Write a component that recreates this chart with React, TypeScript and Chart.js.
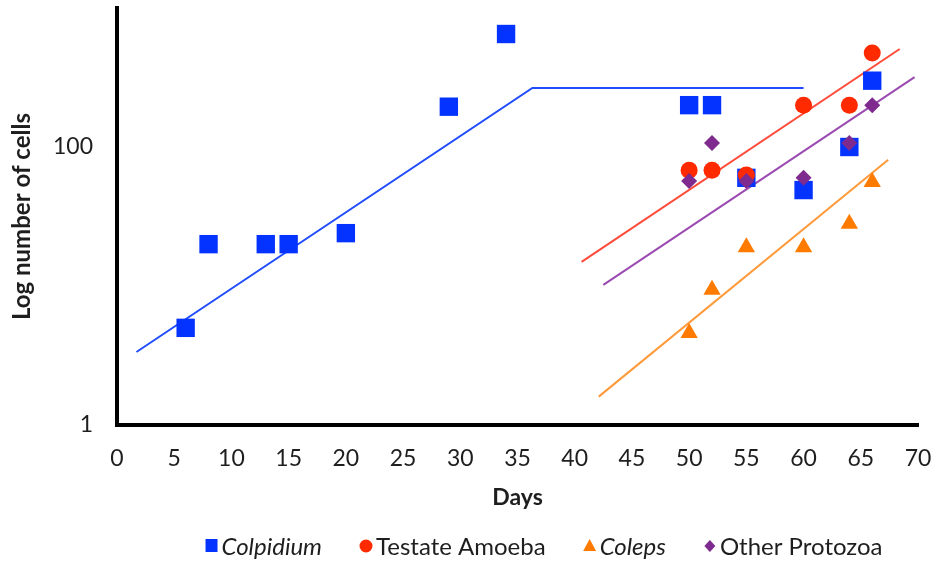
import React, { useEffect, useRef } from 'react';
import { Chart, registerables } from 'chart.js';

Chart.register(...registerables);

// ---- data ----
const colpidiumDays = [6, 8, 13, 15, 20, 29, 34, 50, 52, 55, 60, 64, 66];
const colpidiumCells = [5, 20, 20, 20, 24, 195, 650, 200, 200, 60, 49, 100, 300];

const testateDays = [50, 52, 55, 60, 64, 66];
const testateCells = [68, 68, 63, 200, 200, 475];

const colepsDays = [50, 52, 55, 60, 64, 66];
const colepsCells = [4.6, 9.4, 19, 19, 28, 56];

const otherDays = [50, 52, 55, 60, 64, 66];
const otherCells = [57, 107, 57, 60, 107, 200];

// trend lines (endpoints)
const colpidiumTrendDays = [1.7, 36.3, 60];
const colpidiumTrendCells = [3.35, 266, 266];
const testateTrendDays = [40.6, 68.4];
const testateTrendCells = [14.9, 507];
const colepsTrendDays = [42.1, 67.4];
const colepsTrendCells = [1.6, 81];
const otherTrendDays = [42.5, 69.7];
const otherTrendCells = [10.2, 318];

const seriesNames = ['Colpidium', 'Testate Amoeba', 'Coleps', 'Other Protozoa'];
const seriesItalic = [true, false, true, false];
const seriesShapes = ['rect', 'circle', 'triangle', 'rectRot'];
const markerColors = ['#0433ff', '#ff2a00', '#ff7b00', '#7e2a8e'];
const lineColors = ['#1f4cff', '#ff4b3a', '#ff9a3a', '#9a4ab0'];

const xMin = 0;
const xMax = 70;
const xStep = 5;
const yMin = 1;
const yMax = 1000;
const yTickValues = [1, 100];

const FONT = 'Lato, "Open Sans", "DejaVu Sans", sans-serif';
const TEXT = '#1e1e1e';

const pts = (xs: number[], ys: number[]) => xs.map((x, i) => ({ x, y: ys[i] }));

const legendPlugin = {
  id: 'customLegend',
  afterDraw(chart: any) {
    const ctx: CanvasRenderingContext2D = chart.ctx;
    ctx.save();
    const fontSize = 24;
    const y = chart.height - 15;
    const markerW = 12;
    const markerGap = 4;
    const itemGap = 38;
    const centerX = 544;
    const fonts = seriesNames.map((_, i) => `${seriesItalic[i] ? 'italic ' : ''}${fontSize}px ${FONT}`);
    const widths = seriesNames.map((n, i) => {
      ctx.font = fonts[i];
      return ctx.measureText(n).width;
    });
    const total =
      widths.reduce((a, w) => a + markerW + markerGap + w, 0) + itemGap * (seriesNames.length - 1);
    let x = centerX - total / 2;
    seriesNames.forEach((name, i) => {
      const cx = x + markerW / 2;
      ctx.fillStyle = markerColors[i];
      ctx.beginPath();
      const shape = seriesShapes[i];
      if (shape === 'rect') {
        ctx.rect(cx - 6, y - 7, 12, 13);
      } else if (shape === 'circle') {
        ctx.arc(cx, y, 6.5, 0, Math.PI * 2);
      } else if (shape === 'triangle') {
        ctx.moveTo(cx, y - 7);
        ctx.lineTo(cx + 6.5, y + 5);
        ctx.lineTo(cx - 6.5, y + 5);
        ctx.closePath();
      } else {
        ctx.moveTo(cx, y - 6);
        ctx.lineTo(cx + 5.5, y);
        ctx.lineTo(cx, y + 6);
        ctx.lineTo(cx - 5.5, y);
        ctx.closePath();
      }
      ctx.fill();
      ctx.font = fonts[i];
      ctx.fillStyle = TEXT;
      ctx.textBaseline = 'middle';
      ctx.textAlign = 'left';
      ctx.fillText(name, x + markerW + markerGap, y + 1);
      x += markerW + markerGap + widths[i] + itemGap;
    });
    ctx.restore();
  },
};

export default function App() {
  const ref = useRef<HTMLCanvasElement>(null);

  useEffect(() => {
    if (!ref.current) return;
    const pointSets = [
      { d: pts(colpidiumDays, colpidiumCells), r: 13, order: 3 },
      { d: pts(testateDays, testateCells), r: 8.5, order: 2 },
      { d: pts(colepsDays, colepsCells), r: 10, order: 1 },
      { d: pts(otherDays, otherCells), r: 8, order: 0 },
    ];
    const trendSets = [
      pts(colpidiumTrendDays, colpidiumTrendCells),
      pts(testateTrendDays, testateTrendCells),
      pts(colepsTrendDays, colepsTrendCells),
      pts(otherTrendDays, otherTrendCells),
    ];
    const datasets: any[] = [];
    trendSets.forEach((d, i) => {
      datasets.push({
        label: seriesNames[i] + ' trend',
        data: d,
        showLine: true,
        borderColor: lineColors[i],
        backgroundColor: lineColors[i],
        borderWidth: 2,
        pointRadius: 0,
        pointHoverRadius: 0,
        order: 10 + i,
      });
    });
    pointSets.forEach((p, i) => {
      datasets.push({
        label: seriesNames[i],
        data: p.d,
        showLine: false,
        pointStyle: seriesShapes[i],
        pointRadius: p.r,
        pointHoverRadius: p.r,
        pointBackgroundColor: markerColors[i],
        pointBorderColor: markerColors[i],
        pointBorderWidth: 0,
        order: p.order,
      });
    });

    const chart = new Chart(ref.current, {
      type: 'scatter',
      data: { datasets },
      options: {
        animation: false,
        responsive: false,
        devicePixelRatio: 1,
        layout: { autoPadding: false, padding: { top: 8, right: 17, left: 0, bottom: 0 } },
        plugins: {
          legend: { display: false },
          tooltip: { enabled: false },
        },
        scales: {
          x: {
            type: 'linear',
            min: xMin,
            max: xMax,
            ticks: {
              stepSize: xStep,
              font: { family: FONT, size: 23 },
              color: TEXT,
              padding: 20,
              maxRotation: 0,
              autoSkip: false,
            },
            grid: { display: false, drawTicks: false },
            border: { display: true, color: '#000', width: 4 },
            title: {
              display: true,
              text: 'Days',
              font: { family: FONT, size: 23, weight: 'bold' },
              color: TEXT,
              padding: { top: 0, bottom: 50 },
            },
            afterFit: (s: any) => {
              s.height = 136;
              s.paddingLeft = 0;
              s.paddingRight = 0;
            },
          },
          y: {
            type: 'logarithmic',
            min: yMin,
            max: yMax,
            afterBuildTicks: (s: any) => {
              s.ticks = yTickValues.map((v) => ({ value: v }));
            },
            ticks: {
              font: { family: FONT, size: 23 },
              color: TEXT,
              padding: 24,
              callback: (v: any) => String(v),
            },
            grid: { display: false, drawTicks: false },
            border: { display: true, color: '#000', width: 4 },
            title: {
              display: true,
              text: 'Log number of cells',
              font: { family: FONT, size: 24, weight: 'bold' },
              color: TEXT,
              padding: { top: 8, bottom: 0 },
            },
            afterFit: (s: any) => {
              s.width = 117;
              s.paddingTop = 0;
              s.paddingBottom = 0;
            },
          },
        },
      } as any,
      plugins: [legendPlugin],
    });
    return () => chart.destroy();
  }, []);

  return (
    <div style={{ position: 'absolute', left: 0, top: 0, width: 935, height: 561, background: '#fff' }}>
      <canvas ref={ref} width={935} height={561} style={{ width: 935, height: 561, display: 'block' }} />
    </div>
  );
}
